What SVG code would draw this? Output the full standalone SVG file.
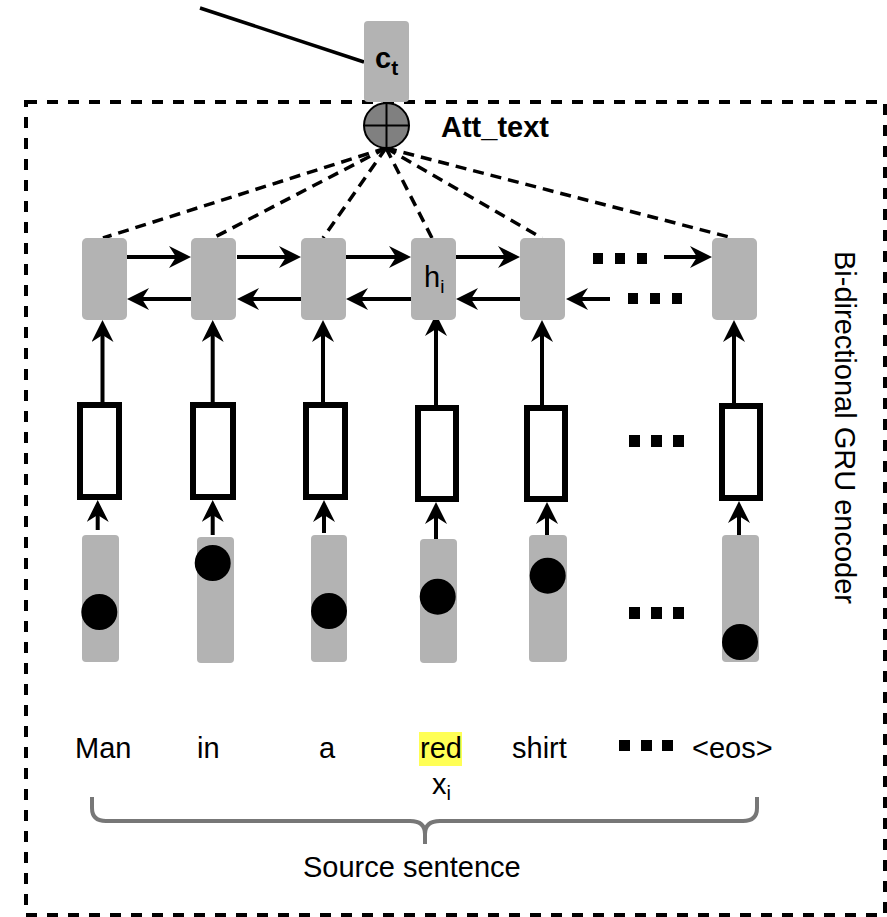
<svg xmlns="http://www.w3.org/2000/svg" width="887" height="917" viewBox="0 0 887 917">
<style>
.gray{fill:#b3b3b3;}
.wbox{fill:#ffffff;stroke:#000;stroke-width:6;}
.arr{stroke:#000;stroke-width:4;fill:none;marker-end:url(#ah);}
.att{stroke:#000;stroke-width:3.5;stroke-dasharray:11 7;fill:none;}
.dot{fill:#000;}
.sq{fill:#000;}
.t{font-family:"Liberation Sans",Arial,sans-serif;font-size:29px;fill:#000;}
.b{font-weight:bold;}
</style>
<defs>
<marker id="ah" viewBox="0 0 22 22" refX="12" refY="11" markerWidth="22" markerHeight="22" markerUnits="userSpaceOnUse" orient="auto">
<path d="M0,0 L22,11 L0,22 L7,11 Z" fill="#000"/>
</marker>
</defs>
<rect width="887" height="917" fill="#fff"/>

<g id="encoder-frame">
<rect x="26" y="102" width="859" height="813" fill="none" stroke="#000" stroke-width="4" stroke-dasharray="11 10"/>
<text class="t" transform="translate(835,251) rotate(90)">Bi-directional GRU encoder</text>
</g>

<g id="connectors">
<line x1="200" y1="8" x2="364" y2="62" stroke="#000" stroke-width="3.5"/>
<line class="att" x1="386" y1="148" x2="103" y2="238"/>
<line class="att" x1="386" y1="148" x2="213" y2="238"/>
<line class="att" x1="386" y1="148" x2="323" y2="238"/>
<line class="att" x1="386" y1="148" x2="432" y2="238"/>
<line class="att" x1="386" y1="148" x2="542" y2="238"/>
<line class="att" x1="386" y1="148" x2="733" y2="238"/>
<!-- forward -->
<line class="arr" x1="127" y1="257" x2="181" y2="257"/>
<line class="arr" x1="237" y1="257" x2="291" y2="257"/>
<line class="arr" x1="346" y1="257" x2="401" y2="257"/>
<line class="arr" x1="456" y1="257" x2="510" y2="257"/>
<line class="arr" x1="664" y1="257" x2="702" y2="257"/>
<!-- backward -->
<line class="arr" x1="191" y1="299" x2="137" y2="299"/>
<line class="arr" x1="301" y1="299" x2="247" y2="299"/>
<line class="arr" x1="411" y1="299" x2="356" y2="299"/>
<line class="arr" x1="520" y1="299" x2="466" y2="299"/>
<line class="arr" x1="610" y1="299" x2="576" y2="299"/>
<!-- up to hidden -->
<line class="arr" x1="102.5" y1="402" x2="102.5" y2="330"/>
<line class="arr" x1="212.7" y1="402" x2="212.7" y2="330"/>
<line class="arr" x1="323" y1="402" x2="323" y2="330"/>
<line class="arr" x1="436" y1="405" x2="436" y2="324"/>
<line class="arr" x1="542" y1="405" x2="542" y2="330"/>
<line class="arr" x1="734" y1="403" x2="734" y2="330"/>
<!-- up from embeddings -->
<line class="arr" x1="97.7" y1="530" x2="97.7" y2="510"/>
<line class="arr" x1="212.7" y1="535" x2="212.7" y2="510"/>
<line class="arr" x1="324" y1="533" x2="324" y2="510"/>
<line class="arr" x1="436" y1="539" x2="436" y2="512"/>
<line class="arr" x1="547" y1="535" x2="547" y2="512"/>
<line class="arr" x1="739" y1="535" x2="739" y2="511"/>
<!-- ellipses -->
<rect class="sq" x="593" y="253" width="10" height="11"/>
<rect class="sq" x="615" y="253" width="10" height="11"/>
<rect class="sq" x="637" y="253" width="10" height="11"/>
<rect class="sq" x="628" y="293" width="10" height="11"/>
<rect class="sq" x="650" y="293" width="10" height="11"/>
<rect class="sq" x="672" y="293" width="10" height="11"/>
</g>

<g id="ct">
<rect class="gray" x="364" y="21" width="45" height="81" rx="4"/>
<text class="t b" x="375" y="68">c<tspan font-size="21" dy="7">t</tspan></text>
</g>

<g id="att-sum">
<circle cx="386.5" cy="125.5" r="22.5" fill="#808080" stroke="#000" stroke-width="2"/>
<line x1="364" y1="125.5" x2="409" y2="125.5" stroke="#000" stroke-width="2"/>
<line x1="386.5" y1="103" x2="386.5" y2="148" stroke="#000" stroke-width="2"/>
<text class="t b" x="441" y="137">Att_text</text>
</g>

<g id="hidden">
<rect class="gray" x="82" y="238" width="45" height="82" rx="5"/>
<rect class="gray" x="191" y="238" width="45" height="82" rx="5"/>
<rect class="gray" x="301" y="238" width="45" height="82" rx="5"/>
<rect class="gray" x="411" y="238" width="45" height="82" rx="5"/>
<rect class="gray" x="520" y="238" width="45" height="82" rx="5"/>
<rect class="gray" x="712" y="238" width="45" height="82" rx="5"/>
<text class="t" x="424" y="287" font-size="27" fill="#222">h<tspan font-size="19" dy="6">i</tspan></text>
</g>

<g id="gru-cells">
<rect class="wbox" x="80" y="405" width="39" height="92"/>
<rect class="wbox" x="193" y="405" width="40" height="92"/>
<rect class="wbox" x="306" y="405" width="39" height="92"/>
<rect class="wbox" x="418" y="408" width="38" height="91"/>
<rect class="wbox" x="527" y="408" width="38" height="91"/>
<rect class="wbox" x="722" y="406" width="38" height="92"/>
<rect class="sq" x="629" y="435" width="11" height="12"/>
<rect class="sq" x="651" y="435" width="11" height="12"/>
<rect class="sq" x="673" y="435" width="11" height="12"/>
</g>

<g id="embeddings">
<rect class="gray" x="82" y="535" width="37" height="127" rx="4"/>
<circle class="dot" cx="99.3" cy="612" r="18"/>
<rect class="gray" x="197" y="537" width="37" height="126" rx="4"/>
<circle class="dot" cx="212.7" cy="563" r="18"/>
<rect class="gray" x="311" y="535" width="36" height="127" rx="4"/>
<circle class="dot" cx="329" cy="611" r="18"/>
<rect class="gray" x="420" y="539" width="37" height="124" rx="4"/>
<circle class="dot" cx="437.7" cy="596.7" r="18"/>
<rect class="gray" x="529" y="535" width="38" height="127" rx="4"/>
<circle class="dot" cx="547.7" cy="575.7" r="18"/>
<rect class="gray" x="722" y="535" width="37" height="127" rx="4"/>
<circle class="dot" cx="740" cy="642" r="18"/>
<rect class="sq" x="629" y="607" width="11" height="12"/>
<rect class="sq" x="651" y="607" width="11" height="12"/>
<rect class="sq" x="673" y="607" width="11" height="12"/>
</g>

<g id="words">
<rect x="419" y="732" width="43" height="34" fill="#ffff55"/>
<text class="t" x="75" y="758">Man</text>
<text class="t" x="197" y="758">in</text>
<text class="t" x="319" y="758">a</text>
<text class="t" x="420" y="758">red</text>
<text class="t" x="512" y="758">shirt</text>
<rect class="sq" x="619" y="740" width="11" height="11"/>
<rect class="sq" x="641" y="740" width="11" height="11"/>
<rect class="sq" x="662" y="740" width="11" height="11"/>
<text class="t" x="692" y="758">&lt;eos&gt;</text>
<text class="t" x="432" y="794">x<tspan font-size="20" dy="6">i</tspan></text>
</g>

<g id="source-brace">
<path d="M92,797 L92,808 Q92,821 106,821 L410,821 Q425,821 425,834 L425,844 M425,834 Q425,821 440,821 L743,821 Q757,821 757,808 L757,797" fill="none" stroke="#777" stroke-width="4"/>
<text class="t" x="303" y="877">Source sentence</text>
</g>
</svg>
